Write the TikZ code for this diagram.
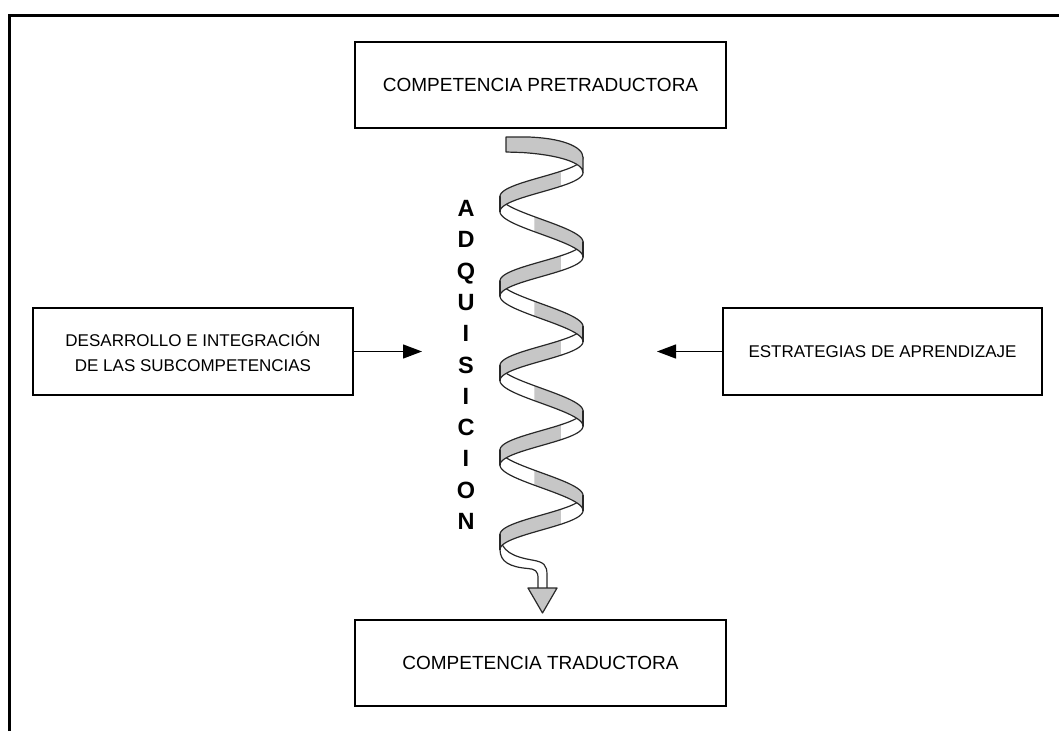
\documentclass[tikz,border=0pt]{standalone}
\usepackage{fontspec}
\setmainfont{Liberation Sans}
\usetikzlibrary{arrows.meta}
\definecolor{ribgray}{RGB}{198,198,198}
\definecolor{inkline}{RGB}{40,40,40}
\begin{document}
\begin{tikzpicture}[x=1pt,y=-1pt,
  declare function={hx(\t)=541.5+41.5*sin(\t); hy(\t)=165+0.23472*(\t-90)-1.6*(1-sin(\t));},
  box/.style={draw=black,line width=1.3pt,inner sep=0pt,align=center},
  ribline/.style={draw=inkline,line width=1.2pt,line join=round,line cap=round},
  conn/.style={line width=1.3pt,-{Triangle[length=19pt,width=14pt]}},
  letter/.style={font=\fontsize{23.5}{24}\selectfont\bfseries,anchor=base,inner sep=0pt}]
\useasboundingbox (0,0) rectangle (1059,731);
% frame
\draw[line width=3pt,line join=miter] (9,731) -- (9,15) -- (1059,15);

% boxes
\node[box,minimum width=371pt,minimum height=86pt,font=\fontsize{19}{23}\selectfont] (top) at (540.5,85) {COMPETENCIA PRETRADUCTORA};
\node[box,minimum width=371pt,minimum height=86pt,font=\fontsize{19}{23}\selectfont] (bot) at (540.5,663) {COMPETENCIA TRADUCTORA};
\node[box,minimum width=320pt,minimum height=87pt,font=\fontsize{17}{25}\selectfont] (lb) at (193,351.5) {DESARROLLO E INTEGRACIÓN\\DE LAS SUBCOMPETENCIAS};
\node[box,minimum width=319pt,minimum height=87pt,font=\fontsize{17}{23}\selectfont] (rb) at (882.5,351.5) {ESTRATEGIAS DE APRENDIZAJE};

% arrows
\coordinate (lt) at (422,351.5);
\coordinate (rt) at (657,351.5);
\draw[conn] (lb.east) -- (lt);
\draw[conn] (rb.west) -- (rt);

% vertical word
\foreach \l [count=\i] in {A,D,Q,U,I,S,I,C,I,O,N} {
  \node[letter] (q\i) at (466,{216.5+31.3*(\i-1)}) {\l};
}

% tail of ribbon
\fill[white] (500,534.5) .. controls (500,552) and (515,557) .. (532,560)
  .. controls (544,562) and (547,565) .. (547,575) -- (547,588) -- (538,588) -- (538,578)
  .. controls (538,571) and (535,569) .. (528,568.5) .. controls (510,567) and (500,562) .. (500,549.5) -- cycle;
\draw[ribline] (500,534.5) .. controls (500,552) and (515,557) .. (532,560)
  .. controls (544,562) and (547,565) .. (547,575) -- (547,588);
\draw[ribline] (538,588) -- (538,578)
  .. controls (538,571) and (535,569) .. (528,568.5) .. controls (510,567) and (500,562) .. (500,549.5);
\filldraw[fill=ribgray,draw=inkline,line width=1.2pt,line join=round] (528,588) -- (557,588) -- (542.5,613) -- cycle;

% ribbon bands
\foreach \k in {8,7,...,0} {
  \pgfmathsetmacro\ta{90+180*\k}
  \pgfmathsetmacro\tb{\ta+180}
  \pgfmathsetmacro\tg{\ta+ifthenelse(mod(\k,2)==0,62,80)}
  \fill[white] plot[domain=\ta:\tb,samples=60,variable=\t] ({hx(\t)},{hy(\t)-7.5})
     -- plot[domain=\tb:\ta,samples=60,variable=\t] ({hx(\t)},{hy(\t)+7.5}) -- cycle;
  \fill[ribgray] plot[domain=\tg:\tb,samples=40,variable=\t] ({hx(\t)},{hy(\t)-7.5})
     -- plot[domain=\tb:\tg,samples=40,variable=\t] ({hx(\t)},{hy(\t)+7.5}) -- cycle;
  \draw[ribline] plot[domain=\ta:\tb,samples=60,variable=\t] ({hx(\t)},{hy(\t)-7.5});
  \draw[ribline] plot[domain=\ta:\tb,samples=60,variable=\t] ({hx(\t)},{hy(\t)+7.5});
  \draw[ribline] ({hx(\tb)},{hy(\tb)-7.5}) -- ({hx(\tb)},{hy(\tb)+7.5});
}

% top start of ribbon
\filldraw[fill=ribgray,draw=inkline,line width=1.2pt,line join=round]
  (506,137) -- (528,137) .. controls (560,138) and (583,146) .. (583,157.5)
  -- (583,172.5) .. controls (583,163) and (560,155) .. (522,152.5) -- (506,152) -- cycle;
\end{tikzpicture}
\end{document}
